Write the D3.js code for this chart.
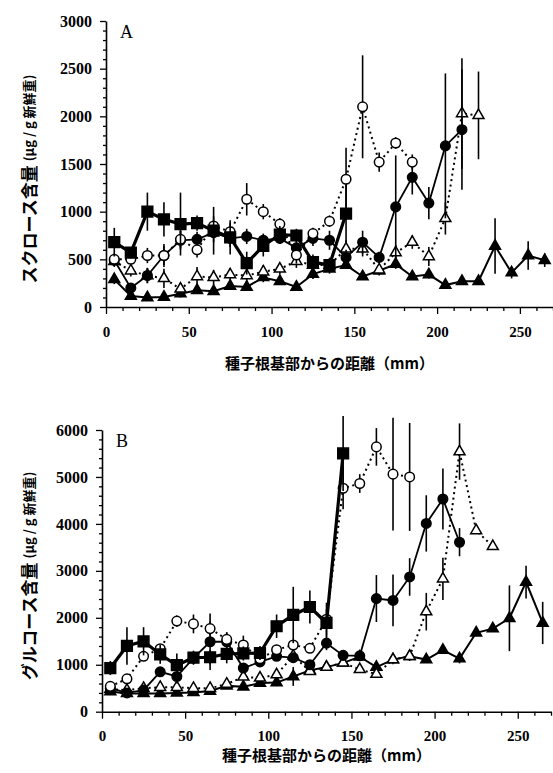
<!DOCTYPE html>
<html><head><meta charset="utf-8">
<script src="https://cdn.jsdelivr.net/npm/d3@7/dist/d3.min.js"></script>
<style>
body{margin:0;background:#fff}
svg{display:block}
</style></head><body>
<svg id="chart" width="553" height="773"></svg>
<script>
// Distance from the seminal root base (mm), centre of each 10-mm segment
const distanceMm = [5,15,25,35,45,55,65,75,85,95,105,115,125,135,145,155,165,175,185,195,205,215,225,235,245,255,265];

// Panel A – sucrose content (µg / g fresh weight)
const sucroseSquare       = [680,570,1000,920,870,880,800,730,460,640,760,750,470,440,980];
const sucroseSquareErr    = [150,60,200,180,330,80,250,180,120,110,90,70,80,70,300];
const sucroseCircle       = [490,200,330,540,700,710,780,720,740,700,720,620,720,700,520,680,520,1050,1360,1090,1690,1860];
const sucroseCircleErr    = [60,50,80,120,100,80,100,90,80,70,60,80,80,100,80,120,60,540,180,170,760,630];
const sucroseOpenCircle   = [500,500,540,540,710,600,850,790,1130,1000,870,545,770,900,1340,2100,1520,1720,1520];
const sucroseOpenCircleErr= [60,50,80,100,90,80,100,90,170,80,60,90,60,60,330,540,100,60,80];
const sucroseOpenTri      = [480,380,330,300,190,320,310,340,330,370,400,480,440,440,610,610,390,570,680,530,930,2030,2010];
const sucroseOpenTriErr   = [60,60,80,100,60,100,80,70,70,70,60,70,60,60,90,80,60,80,70,100,170,580,460];
const sucroseTri          = [290,115,100,105,140,175,165,220,210,310,270,210,345,400,440,320,380,450,320,340,230,270,270,640,360,540,490];
const sucroseTriErr       = [50,40,30,40,40,30,30,40,40,50,40,30,50,50,40,30,40,50,30,40,30,40,40,290,60,150,70];

// Panel B – glucose content (µg / g fresh weight)
const glucoseSquare       = [930,1400,1500,1220,990,1150,1160,1230,1240,1250,1820,2060,2230,1890,5500];
const glucoseSquareErr    = [150,400,300,200,250,150,150,200,150,150,250,600,350,300,800];
const glucoseCircle       = [500,400,460,850,750,1140,1490,1490,930,1060,1180,1150,1000,1460,1200,1190,2410,2370,2870,4010,4530,3610];
const glucoseCircleErr    = [60,50,60,80,150,100,600,200,100,100,100,100,100,150,100,100,500,550,400,600,650,300];
const glucoseOpenCircle   = [540,700,1180,1340,1930,1870,1770,1540,1420,1130,1320,1420,1350,1970,4760,4860,5640,5060,5000];
const glucoseOpenCircleErr= [60,100,100,100,120,200,150,150,200,100,100,100,100,350,450,200,400,1200,1150];
const glucoseOpenTri      = [480,460,500,520,520,500,500,590,740,720,790,1190,860,950,1040,900,800,1110,1180,2130,2830,5540,3860,3520];
const glucoseOpenTriErr   = [50,50,50,50,50,50,50,60,60,60,60,80,60,60,60,60,60,100,100,400,450,600,60,60];
const glucoseTri          = [430,390,390,390,400,410,440,550,530,610,620,750,880,950,1040,1170,950,1110,1180,1110,1310,1130,1680,1770,1990,2760,1890];
const glucoseTriErr       = [40,40,40,40,40,40,40,50,50,60,60,200,60,60,60,60,60,60,60,60,60,100,60,60,700,350,450];

// Axis tick labels
const xTicks = [0,50,100,150,200,250];
const yTicksA = [0,500,1000,1500,2000,2500,3000];
const yTicksB = [0,1000,2000,3000,4000,5000,6000];

const xTitle = "種子根基部からの距離（mm）";
const unitText = "(μg / g 新鮮重)";

const svg = d3.select("#chart");
const serif = '"Liberation Serif","Times New Roman",serif';
const cjk = '"Noto Sans CJK JP","Noto Sans CJK SC",sans-serif';
const intFmt = d3.format("d");

function seriesDefs(sq, sqE, ci, ciE, oc, ocE, ot, otE, tr, trE) {
  return [
    {vals: tr, err: trE, shape: d3.symbolTriangle, size: 52, fill: "#000", dash: null, lw: 2},
    {vals: ot, err: otE, shape: d3.symbolTriangle, size: 52, fill: "#fff", dash: "2,3.5", lw: 2},
    {vals: ci, err: ciE, shape: d3.symbolCircle, size: 72, fill: "#000", dash: null, lw: 1.8},
    {vals: oc, err: ocE, shape: d3.symbolCircle, size: 72, fill: "#fff", dash: "2,3.5", lw: 2},
    {vals: sq, err: sqE, shape: d3.symbolSquare, size: 115, fill: "#000", dash: null, lw: 3.2}
  ];
}

function drawPanel(p) {
  const g = svg.append("g");
  const x = d3.scaleLinear().domain([0, 270]).range([p.x0, p.x1]);
  const y = d3.scaleLinear().domain([0, p.yMax]).range([p.y0, p.y1]);

  // minor ticks
  const yMinor = d3.range(0, p.yMax + 1, p.yMinor).filter(v => v % p.yMajor !== 0);
  g.append("g").attr("transform", `translate(${p.x0},0)`)
    .call(d3.axisLeft(y).tickValues(yMinor).tickSize(3).tickFormat(""))
    .call(a => a.select(".domain").remove());
  const xMinor = d3.range(10, 271, 10).filter(v => v % 50 !== 0);
  g.append("g").attr("transform", `translate(0,${p.y0})`)
    .call(d3.axisBottom(x).tickValues(xMinor).tickSize(4).tickFormat(""))
    .call(a => a.select(".domain").remove());

  // major axes
  const ya = g.append("g").attr("transform", `translate(${p.x0},0)`)
    .call(d3.axisLeft(y).tickValues(p.yTicks).tickFormat(intFmt).tickSize(6).tickSizeOuter(0).tickPadding(8));
  ya.selectAll("text").attr("font-family", serif).attr("font-weight", "bold").attr("font-size", 16);
  const xa = g.append("g").attr("transform", `translate(0,${p.y0})`)
    .call(d3.axisBottom(x).tickValues(xTicks).tickFormat(intFmt).tickSize(7).tickSizeOuter(0).tickPadding(12));
  xa.selectAll("text").attr("font-family", serif).attr("font-weight", "bold").attr("font-size", 15);
  g.selectAll(".domain").attr("stroke-width", 1.6);
  g.selectAll(".tick line").attr("stroke-width", 1.3);

  // series
  p.series.forEach(s => {
    const pts = s.vals.map((v, i) => ({d: distanceMm[i], v, e: s.err[i]}));
    const sg = g.append("g");
    sg.selectAll("line.err").data(pts).join("line")
      .attr("x1", d => x(d.d)).attr("x2", d => x(d.d))
      .attr("y1", d => y(d.v - d.e)).attr("y2", d => y(d.v + d.e))
      .attr("stroke", "#000").attr("stroke-width", 1.6);
    sg.append("path").datum(pts)
      .attr("d", d3.line().x(d => x(d.d)).y(d => y(d.v)))
      .attr("fill", "none").attr("stroke", "#000").attr("stroke-width", s.lw)
      .attr("stroke-dasharray", s.dash);
    sg.selectAll("path.mk").data(pts).join("path").attr("class", "mk")
      .attr("transform", d => `translate(${x(d.d)},${y(d.v)})`)
      .attr("d", d3.symbol().type(s.shape).size(s.size))
      .attr("fill", s.fill).attr("stroke", "#000").attr("stroke-width", 1.5);
  });

  // panel letter
  g.append("text").attr("x", p.x0 + 14).attr("y", p.y1 + 17)
    .attr("font-family", serif).attr("font-size", 18).text(p.letter);

  // x title
  g.append("text").attr("x", (p.x0 + p.x1) / 2).attr("y", p.xTitleY)
    .attr("text-anchor", "middle").attr("font-family", cjk).attr("font-weight", "bold")
    .attr("font-size", 15).text(xTitle);

  // y title
  const yt = g.append("text")
    .attr("transform", `translate(${p.yTitleX},${p.yTitleY}) rotate(-90)`)
    .attr("text-anchor", "middle").attr("dominant-baseline", "central")
    .attr("font-family", cjk).attr("font-weight", "bold");
  yt.append("tspan").attr("font-size", 17).text(p.yTitle);
  yt.append("tspan").attr("font-size", 13).attr("dx", 4).text(unitText);
}

drawPanel({
  x0: 106, x1: 553, y0: 307, y1: 21, yMax: 3000, yMajor: 500, yMinor: 100,
  yTicks: yTicksA, letter: "A", xTitleY: 369, yTitleX: 28, yTitleY: 179,
  yTitle: "スクロース含量",
  series: seriesDefs(sucroseSquare, sucroseSquareErr, sucroseCircle, sucroseCircleErr,
    sucroseOpenCircle, sucroseOpenCircleErr, sucroseOpenTri, sucroseOpenTriErr, sucroseTri, sucroseTriErr)
});

drawPanel({
  x0: 102, x1: 551, y0: 711.7, y1: 430, yMax: 6000, yMajor: 1000, yMinor: 200,
  yTicks: yTicksB, letter: "B", xTitleY: 761, yTitleX: 28, yTitleY: 576,
  yTitle: "グルコース含量",
  series: seriesDefs(glucoseSquare, glucoseSquareErr, glucoseCircle, glucoseCircleErr,
    glucoseOpenCircle, glucoseOpenCircleErr, glucoseOpenTri, glucoseOpenTriErr, glucoseTri, glucoseTriErr)
});
</script>
</body></html>
